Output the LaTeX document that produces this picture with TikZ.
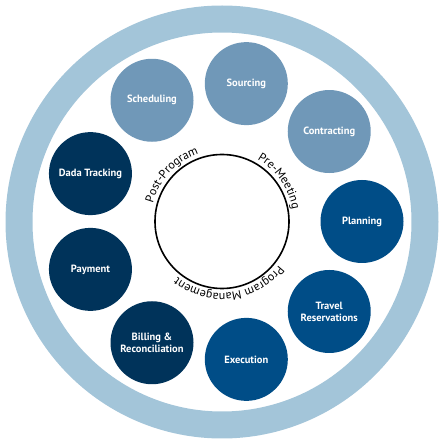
\documentclass[tikz,border=0pt]{standalone}
\usepackage{fontspec}
\setmainfont{PT Sans}
\usetikzlibrary{decorations.text,calc}
\definecolor{ringblue}{HTML}{A3C5D9}
\definecolor{lightblue}{HTML}{7098B8}
\definecolor{midblue}{HTML}{004D87}
\definecolor{darkblue}{HTML}{00335A}
\tikzset{
  stage/.style={circle, minimum size=83pt, inner sep=0pt, align=center,
    text=white, font=\fontsize{10.5}{12}\selectfont\bfseries},
  arclabel/.style={decorate, decoration={text along path, text align=center,
    text={#1}}}
}
\begin{document}
\begin{tikzpicture}[x=1pt,y=1pt]
\useasboundingbox (0,0) rectangle (445,445);
\coordinate (C) at (222,223.5);
% outer ring
\fill[ringblue, even odd rule] (222,223) circle[radius=216.5] (222,223) circle[radius=189.5];
% inner circle
\draw[line width=1.6pt, black] (C) circle[radius=67];
% stages
\node[stage, fill=midblue]   (planning)    at ($(C)+(0:140)$)   {Planning};
\node[stage, fill=lightblue] (contracting) at ($(C)+(40:140)$)  {Contracting};
\node[stage, fill=lightblue] (sourcing)    at ($(C)+(80:140)$)  {Sourcing};
\node[stage, fill=lightblue] (scheduling)  at ($(C)+(120:140)$) {Scheduling};
\node[stage, fill=darkblue]  (dada)        at ($(C)+(160:140)$) {Dada Tracking};
\node[stage, fill=darkblue]  (payment)     at ($(C)+(200:140)$) {Payment};
\node[stage, fill=darkblue]  (billing)     at ($(C)+(240:140)$) {Billing \&\\Reconciliation};
\node[stage, fill=midblue]   (execution)   at ($(C)+(280:140)$) {Execution};
\node[stage, fill=midblue]   (travel)      at ($(C)+(320:140)$) {Travel\\Reservations};
% arc labels
\path[arclabel={|\fontsize{12}{14}\selectfont|Post-Program}]
  ($(C)+(180:71.5)$) arc[start angle=180, end angle=94, radius=71.5];
\path[arclabel={|\fontsize{12}{14}\selectfont|Pre-Meeting}]
  ($(C)+(78:71.5)$) arc[start angle=78, end angle=-8, radius=71.5];
\path[arclabel={|\fontsize{12}{14}\selectfont|Program Management}]
  ($(C)+(-20:71.5)$) arc[start angle=-20, end angle=-146, radius=71.5];
\end{tikzpicture}
\end{document}
